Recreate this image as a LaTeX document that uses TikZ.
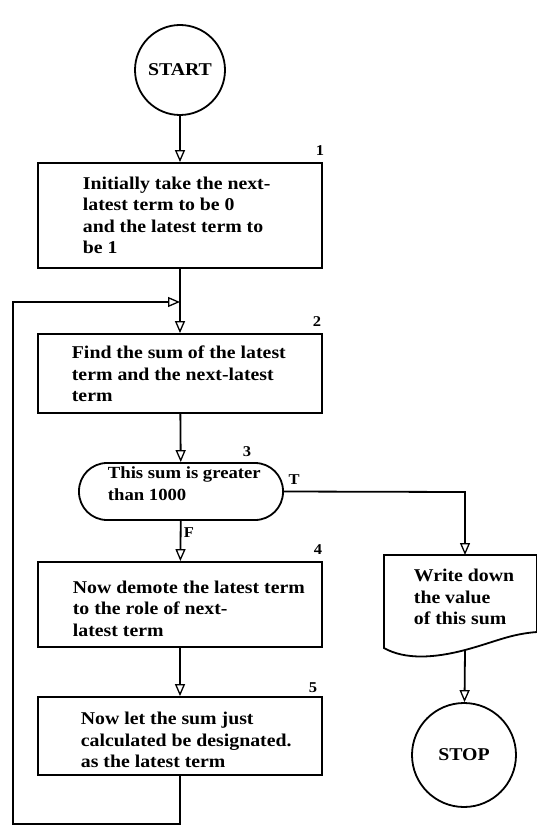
\documentclass[tikz,border=0pt]{standalone}
\usepackage{fontspec}
\setmainfont{Liberation Serif}[FakeStretch=1.1]
\usetikzlibrary{arrows.meta}
\begin{document}
\begin{tikzpicture}[x=1pt,y=-1pt,
  line width=1.8pt, line join=miter,
  font=\bfseries\fontsize{18}{21.5}\selectfont,
  proc/.style={draw, rectangle, minimum width=284pt, minimum height=#1, inner sep=0pt},
  txt/.style={anchor=west, align=left, inner sep=0pt},
  term/.style={draw, circle, minimum size=#1, inner sep=0pt},
  decide/.style={draw, rectangle, rounded corners=28pt, minimum width=204pt, minimum height=57pt, inner sep=0pt},
  flow/.style={-{Triangle[open,length=12pt,width=10pt,line width=1.3pt]}},
  num/.style={inner sep=0pt, font=\bfseries\fontsize{15}{15}\selectfont}
]
\useasboundingbox (0,0) rectangle (537,826);

% terminals
\node[term=90pt] (start) at (180,70) {START};
\node[term=104pt] (stop) at (464,755) {STOP};

% process boxes
\node[proc=105pt] (b1) at (180,215.5) {};
\node[txt] (t1) at (82,215.5) {Initially take the next-\\latest term to be 0\\and the latest term to\\be 1};
\node[num] (n1) at (320,151) {1};

\node[proc=79pt] (b2) at (180,373.5) {};
\node[txt] (t2) at (71,374) {Find the sum of the latest\\term and the next-latest\\term};
\node[num] (n2) at (317,322) {2};

\node[decide] (dec) at (181,491.5) {};
\node[txt, font=\bfseries\fontsize{17}{22}\selectfont] (t3) at (107,483.5) {This sum is greater\\than 1000};
\node[num] (n3) at (247,452) {3};

\node[proc=85pt] (b4) at (180,604.5) {};
\node[txt] (t4) at (72,608.5) {Now demote the latest term\\to the role of next-\\latest term};
\node[num] (n4) at (318,550) {4};

\node[proc=78pt] (b5) at (180,736) {};
\node[txt] (t5) at (80,740) {Now let the sum just\\calculated be designated.\\as the latest term};
\node[num] (n5) at (313,688) {5};

% output document symbol
\draw (384,555) -- (537,555) -- (537,632)
  .. controls (510,634) and (495,642) .. (465,650)
  .. controls (435,658) and (405,660) .. (384,648) -- cycle;
\node[txt] (tw) at (413,597) {Write down\\the value\\of this sum};
\coordinate (wtop) at (465,555);
\coordinate (wout) at (465,650);

% branch labels
\node[num] (lt) at (294,480) {T};
\node[num] (lf) at (189,533) {F};

% junction and loop path
\coordinate (j) at (180,302);
\coordinate (c1) at (180,824);
\coordinate (c2) at (13,824);
\coordinate (c3) at (13,302);
\coordinate (tc) at (465,492);

% connectors
\draw[flow] (start) -- (b1);
\draw (b1) -- (j);
\draw[flow] (j) -- (b2);
\draw[flow] (b2) -- (dec);
\draw[flow] (dec) -- (b4);
\draw[flow] (b4) -- (b5);
\draw[flow] (b5.south) -- (c1) -- (c2) -- (c3) -- (j);
\draw[flow] (dec.east) -- (tc) -- (wtop);
\draw[flow] (wout) -- (stop);
\end{tikzpicture}
\end{document}
